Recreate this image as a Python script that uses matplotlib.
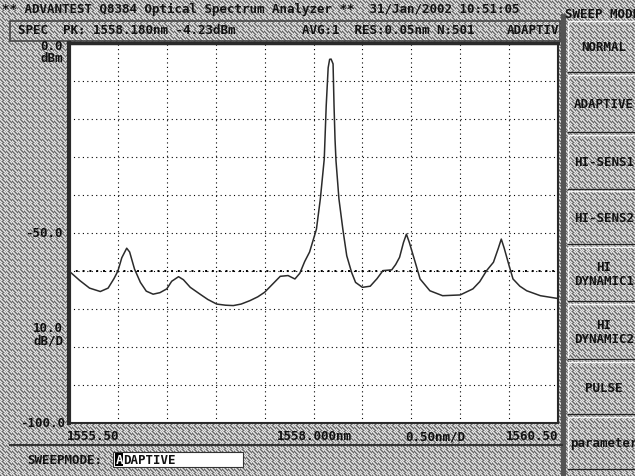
import numpy as np
import matplotlib
matplotlib.use("Agg")
import matplotlib.pyplot as plt
from matplotlib.patches import Rectangle

# trace samples (wavelength in nm, level in dBm)
wavelength = [
    1555.50, 1555.61, 1555.71, 1555.82, 1555.90, 1555.96, 1556.00, 1556.04,
    1556.09, 1556.12, 1556.17, 1556.23, 1556.29, 1556.36, 1556.43, 1556.50,
    1556.55, 1556.62, 1556.67, 1556.74, 1556.84, 1556.92, 1557.01, 1557.10,
    1557.18, 1557.26, 1557.35, 1557.43, 1557.50, 1557.58, 1557.66, 1557.74,
    1557.81, 1557.86, 1557.91, 1557.96, 1558.03, 1558.07, 1558.11, 1558.13,
    1558.15, 1558.165, 1558.18, 1558.20, 1558.21, 1558.22, 1558.23, 1558.26,
    1558.30, 1558.34, 1558.39, 1558.43, 1558.50, 1558.58, 1558.65, 1558.71,
    1558.80, 1558.84, 1558.88, 1558.92, 1558.95, 1558.98, 1559.04, 1559.09,
    1559.19, 1559.32, 1559.50, 1559.63, 1559.70, 1559.77, 1559.84, 1559.89,
    1559.92, 1559.95, 1560.00, 1560.04, 1560.11, 1560.18, 1560.32, 1560.49,
]
level = [
    -60.0, -62.5, -64.5, -65.4, -64.5, -62.0, -60.0, -56.5,
    -54.0, -55.0, -59.5, -63.0, -65.3, -66.1, -65.7, -64.7,
    -62.7, -61.5, -62.3, -64.3, -66.1, -67.5, -68.7, -69.0,
    -69.1, -68.7, -67.8, -66.8, -65.6, -63.5, -61.4, -61.2,
    -62.1, -60.6, -57.5, -55.0, -49.0, -41.0, -30.5, -16.5,
    -6.5, -4.3, -4.23, -5.5, -16.5, -25.3, -31.0, -41.0,
    -49.0, -56.0, -60.4, -63.0, -64.3, -64.0, -62.0, -59.9,
    -59.7, -58.3, -56.4, -52.5, -50.3, -52.5, -57.7, -62.1,
    -65.2, -66.5, -66.3, -64.7, -62.8, -59.9, -57.7, -54.0,
    -51.6, -54.0, -58.6, -62.1, -64.0, -65.2, -66.5, -67.2,
]

x_grid = [1555.5 + 0.5 * i for i in range(11)]
y_grid = [-100 + 10 * i for i in range(11)]

header = "** ADVANTEST Q8384 Optical Spectrum Analyzer **  31/Jan/2002 10:51:05"
marker_info = "SPEC  PK: 1558.180nm -4.23dBm"
sweep_info = "AVG:1  RES:0.05nm N:501"
buttons = ["NORMAL", "ADAPTIVE", "HI-SENS1", "HI-SENS2",
           "HI\nDYNAMIC1", "HI\nDYNAMIC2", "PULSE", "parameter"]

W, H = 635, 477
FONT = dict(family="DejaVu Sans Mono", fontsize=9, fontweight="bold",
            color="#111111")


def fx(x):
    return x / W


def fy(y):
    return 1 - y / H


fig = plt.figure(figsize=(W / 100, H / 100), dpi=100)

# dithered screen background
tile = np.array([
    [0.95, 0.72, 0.45, 0.72, 0.95, 0.72],
    [0.72, 0.95, 0.72, 0.45, 0.72, 0.95],
    [0.45, 0.72, 0.95, 0.72, 0.45, 0.72],
    [0.72, 0.45, 0.72, 0.95, 0.72, 0.45],
    [0.95, 0.72, 0.45, 0.72, 0.95, 0.72],
    [0.72, 0.95, 0.72, 0.45, 0.72, 0.95],
])
texture = np.tile(tile, (H // 6 + 1, W // 6 + 1))[:H, :W] - 0.05
fig.figimage(texture, cmap="gray", vmin=0, vmax=1, zorder=0)

# status row frame
fig.patches.append(Rectangle((fx(10), fy(42)), fx(550), 20 / H,
                             transform=fig.transFigure, fill=False,
                             edgecolor="#444444", lw=1.2, zorder=1))
# right-hand soft key column
fig.patches.append(Rectangle((fx(561), 0), fx(5), fy(15),
                             transform=fig.transFigure, color="#555555",
                             lw=0, zorder=1))
key_rows = [(22, 73), (76, 133), (136, 190), (192, 245),
            (248, 302), (305, 360), (363, 415), (418, 470)]
for (top, bot), name in zip(key_rows, buttons):
    fig.patches.append(Rectangle((fx(568), fy(bot)), fx(70), (bot - top) / H,
                                 transform=fig.transFigure, fill=False,
                                 edgecolor="#f4f4f4", lw=1.0, zorder=1))
    fig.lines.append(plt.Line2D([fx(568), 1], [fy(bot), fy(bot)],
                                transform=fig.transFigure, color="#222222",
                                lw=1.0, zorder=2))
    fig.text(fx(604), fy((top + bot) / 2), name, ha="center", va="center",
             linespacing=1.1, zorder=3, **FONT)

# bottom status bar
fig.lines.append(plt.Line2D([fx(10), fx(562)], [fy(446), fy(446)],
                            transform=fig.transFigure, color="#333333",
                            lw=1.5, zorder=2))

ax = fig.add_axes([fx(69), fy(424), 489 / W, 380 / H], zorder=2)
ax.set_facecolor("white")
ax.set_xlim(1555.5, 1560.5)
ax.set_ylim(-100, 0)
ax.set_xticks(x_grid)
ax.set_yticks(y_grid)
ax.tick_params(length=0, labelbottom=False, labelleft=False)
ax.grid(True, color="black", lw=0.8, linestyle=(0, (1, 3)))
ax.axhline(-60, color="black", lw=1.4, linestyle=(0, (1, 2.5)), zorder=2)
for side, lw in (("left", 3.0), ("top", 2.5), ("right", 1.5), ("bottom", 1.5)):
    ax.spines[side].set_linewidth(lw)
    ax.spines[side].set_color("#2a2a2a")

ax.plot(wavelength, level, color="#2b2b2b", lw=1.1, zorder=3)

# header texts
fig.text(fx(2), fy(9), header, ha="left", va="center", **FONT)
fig.text(fx(565), fy(15), "SWEEP MODE", ha="left", va="center", **FONT)
fig.text(fx(18), fy(31), marker_info, ha="left", va="center", **FONT)
fig.text(fx(302), fy(31), sweep_info, ha="left", va="center", **FONT)
fig.text(fx(507), fy(31), "ADAPTIV", ha="left", va="center", **FONT)

# level scale
fig.text(fx(63), fy(47), "0.0", ha="right", va="center", **FONT)
fig.text(fx(63), fy(59), "dBm", ha="right", va="center", **FONT)
fig.text(fx(63), fy(234), "-50.0", ha="right", va="center", **FONT)
fig.text(fx(63), fy(328), "10.0", ha="right", va="center", **FONT)
fig.text(fx(63), fy(341), "dB/D", ha="right", va="center", **FONT)
fig.text(fx(65), fy(424), "-100.0", ha="right", va="center", **FONT)

# wavelength scale
fig.text(fx(67), fy(437), "1555.50", ha="left", va="center", **FONT)
fig.text(fx(314), fy(437), "1558.000nm", ha="center", va="center", **FONT)
fig.text(fx(435), fy(437), "0.50nm/D", ha="center", va="center", **FONT)
fig.text(fx(558), fy(437), "1560.50", ha="right", va="center", **FONT)

# sweep mode entry
fig.text(fx(27), fy(461), "SWEEPMODE:", ha="left", va="center", **FONT)
fig.patches.append(Rectangle((fx(113), fy(468)), fx(130), 15 / H,
                             transform=fig.transFigure, facecolor="white",
                             edgecolor="#333333", lw=0.8, zorder=1))
fig.patches.append(Rectangle((fx(115), fy(467)), fx(8), 13 / H,
                             transform=fig.transFigure, facecolor="black",
                             lw=0, zorder=2))
fig.text(fx(115.5), fy(461), "A", ha="left", va="center", zorder=3,
         family="DejaVu Sans Mono", fontsize=9, fontweight="bold",
         color="white")
fig.text(fx(123), fy(461), "DAPTIVE", ha="left", va="center", zorder=3,
         **FONT)

fig.savefig("out.png", dpi=100)
